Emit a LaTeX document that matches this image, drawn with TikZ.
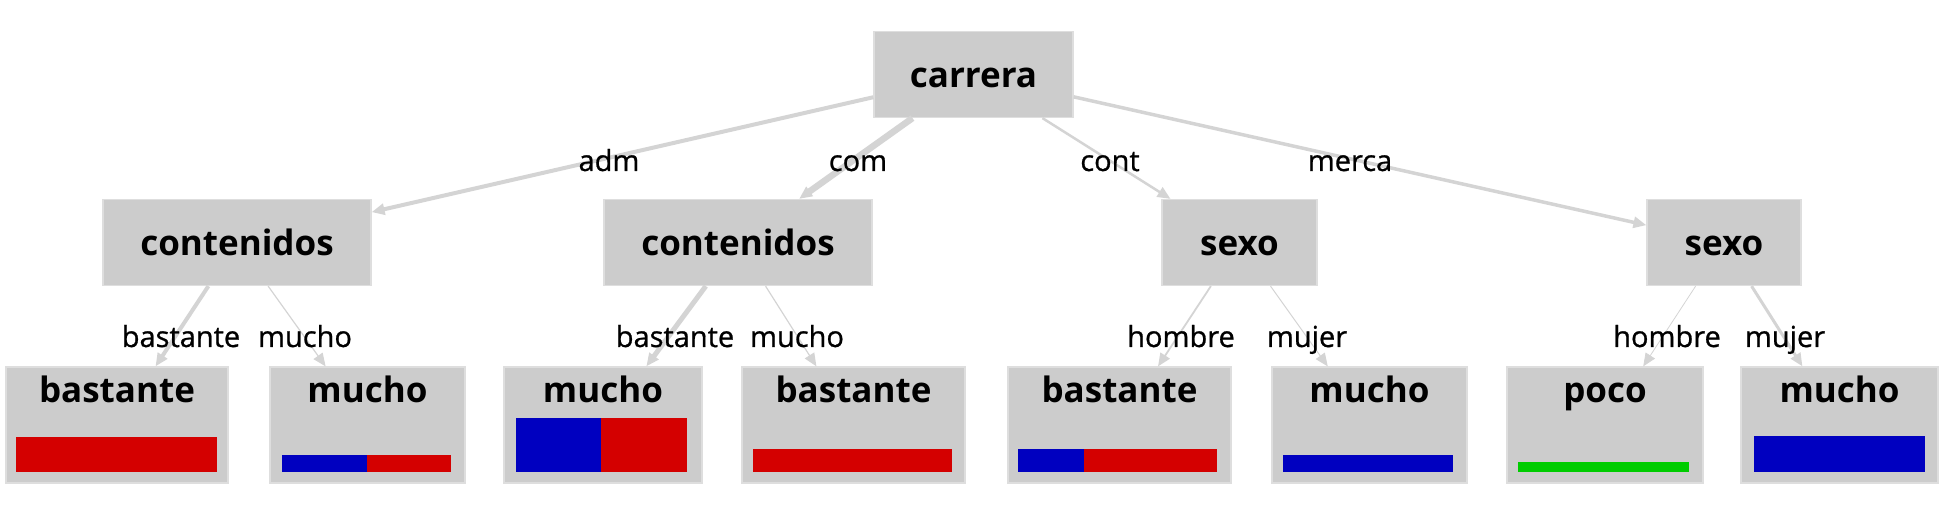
\documentclass[tikz,border=0pt]{standalone}
\usepackage{fontspec}
\setmainfont{Open Sans}
\newfontfamily\lblfont[FakeBold=0.8]{Open Sans}
\usetikzlibrary{arrows.meta}
\definecolor{boxgray}{RGB}{204,204,204}
\definecolor{boxedge}{RGB}{222,222,222}
\definecolor{edgegray}{RGB}{212,212,212}
\definecolor{barred}{RGB}{212,0,0}
\definecolor{barblue}{RGB}{0,0,192}
\definecolor{bargreen}{RGB}{0,204,0}
\begin{document}
\begin{tikzpicture}[x=1pt,y=-1pt,
  inner/.style={fill=boxgray, draw=boxedge, line width=1.2pt, inner sep=0pt,
    minimum height=86pt, text height=26pt, text depth=0pt,
    font=\bfseries\fontsize{35}{42}\selectfont},
  leaf/.style={fill=boxgray, draw=boxedge, line width=1.2pt, inner sep=0pt,
    minimum height=116pt},
  leaftext/.style={anchor=base, inner sep=0pt, font=\bfseries\fontsize{35}{42}\selectfont},
  lbl/.style={anchor=base, inner sep=0pt, font=\lblfont\fontsize{29}{34}\selectfont},
  edge/.style={draw=edgegray, -{Triangle[length=13pt,width=11pt]}}]
\useasboundingbox (0,0) rectangle (1959,510);
% internal nodes
\node[inner, minimum width=199pt] (car) at (973.5,74.5) {carrera};
\node[inner, minimum width=268pt] (c1) at (237,242.5) {contenidos};
\node[inner, minimum width=268pt] (c2) at (738,242.5) {contenidos};
\node[inner, minimum width=155pt] (s1) at (1239.5,242.5) {sexo};
\node[inner, minimum width=154pt] (s2) at (1724,242.5) {sexo};
% leaves
\node[leaf, minimum width=222pt] (l1) at (117,425) {};
\node[leaf, minimum width=195pt] (l2) at (367.5,425) {};
\node[leaf, minimum width=198pt] (l3) at (603,425) {};
\node[leaf, minimum width=223pt] (l4) at (853.5,425) {};
\node[leaf, minimum width=223pt] (l5) at (1119.5,425) {};
\node[leaf, minimum width=195pt] (l6) at (1369.5,425) {};
\node[leaf, minimum width=196pt] (l7) at (1605,425) {};
\node[leaf, minimum width=197pt] (l8) at (1839.5,425) {};
\node[leaftext] (l1t) at (117,402) {bastante};
\node[leaftext] (l2t) at (367.5,402) {mucho};
\node[leaftext] (l3t) at (603,402) {mucho};
\node[leaftext] (l4t) at (853.5,402) {bastante};
\node[leaftext] (l5t) at (1119.5,402) {bastante};
\node[leaftext] (l6t) at (1369.5,402) {mucho};
\node[leaftext] (l7t) at (1605,402) {poco};
\node[leaftext] (l8t) at (1839.5,402) {mucho};
% bars
\fill[barred] (16,437) rectangle (217,472);
\fill[barblue] (282,455) rectangle (367,472);
\fill[barred] (367,455) rectangle (451,472);
\fill[barblue] (516,418) rectangle (601,472);
\fill[barred] (601,418) rectangle (687,472);
\fill[barred] (753,449) rectangle (952,472);
\fill[barblue] (1018,449) rectangle (1084,472);
\fill[barred] (1084,449) rectangle (1217,472);
\fill[barblue] (1283,455) rectangle (1453,472);
\fill[bargreen] (1518,462) rectangle (1689,472);
\fill[barblue] (1754,436) rectangle (1925,472);
% edges
\draw[edge, line width=4pt] (car) -- (c1);
\draw[edge, line width=6.5pt] (car) -- (c2);
\draw[edge, line width=2.5pt] (car) -- (s1);
\draw[edge, line width=3.5pt] (car) -- (s2);
\draw[edge, line width=4pt] (c1) -- (l1);
\draw[edge, line width=1.2pt] (c1) -- (l2);
\draw[edge, line width=5pt] (c2) -- (l3);
\draw[edge, line width=1.2pt] (c2) -- (l4);
\draw[edge, line width=1.8pt] (s1) -- (l5);
\draw[edge, line width=1pt] (s1) -- (l6);
\draw[edge, line width=0.8pt] (s2) -- (l7);
\draw[edge, line width=3pt] (s2) -- (l8);
% edge labels
\node[lbl] (ladm) at (609,171) {adm};
\node[lbl] (lcom) at (858,171) {com};
\node[lbl] (lcont) at (1110,171) {cont};
\node[lbl] (lmerca) at (1350,171) {merca};
\node[lbl] (lb1) at (181,347) {bastante};
\node[lbl] (lm1) at (305,347) {mucho};
\node[lbl] (lb2) at (675,347) {bastante};
\node[lbl] (lm2) at (797,347) {mucho};
\node[lbl] (lh1) at (1181,347) {hombre};
\node[lbl] (lmu1) at (1307,347) {mujer};
\node[lbl] (lh2) at (1667,347) {hombre};
\node[lbl] (lmu2) at (1785,347) {mujer};
\end{tikzpicture}
\end{document}
